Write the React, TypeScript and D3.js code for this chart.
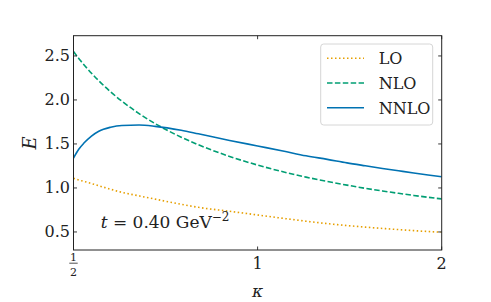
import React from "react";
import * as d3 from "d3";

const kappa = [0.5, 0.51, 0.52, 0.535, 0.55, 0.575, 0.6, 0.64, 0.68, 0.75, 0.8, 0.9, 1.0, 1.1, 1.2, 1.3, 1.4, 1.5, 1.6, 1.7, 1.8, 1.9, 2.0];
const lo = [1.11, 1.09, 1.075, 1.05, 1.025, 0.985, 0.95, 0.91, 0.873, 0.815, 0.78, 0.735, 0.693, 0.655, 0.622, 0.595, 0.573, 0.555, 0.54, 0.527, 0.515, 0.505, 0.497];
const nlo = [2.55, 2.472, 2.401, 2.304, 2.218, 2.092, 1.986, 1.845, 1.731, 1.577, 1.491, 1.358, 1.26, 1.184, 1.123, 1.074, 1.032, 0.996, 0.966, 0.939, 0.915, 0.894, 0.875];
const nnlo = [1.34, 1.44, 1.51, 1.59, 1.645, 1.69, 1.71, 1.715, 1.70, 1.655, 1.615, 1.54, 1.477, 1.42, 1.365, 1.325, 1.285, 1.252, 1.222, 1.195, 1.17, 1.148, 1.128];

const seriesNames = ["LO", "NLO", "NNLO"];
const seriesColors = ["#E69F00", "#009E73", "#0072B2"];
const seriesDash = ["1.5,2.5", "5.5,2.4", ""];
const yTicks = [0.5, 1.0, 1.5, 2.0, 2.5];
const xTicks = [1, 2];
const xMin = 0.5;
const xMax = 2;
const yMin = 0.295;
const yMax = 2.73;

const W = 491, H = 302;
const L = 73.5, R = 441.7, T = 35.7, B = 250;
const FONT = "'DejaVu Serif', serif";

export default function App() {
  const x = d3.scaleLog().domain([xMin, xMax]).range([L, R]);
  const y = d3.scaleLinear().domain([yMin, yMax]).range([B, T]);
  const series = [lo, nlo, nnlo];
  const line = d3
    .line<number>()
    .x((_, i) => x(kappa[i]))
    .y((d) => y(d))
    .curve(d3.curveMonotoneX);
  const tl = 3.5;
  return (
    <svg width={W} height={H} style={{ position: "absolute", left: 0, top: 0, background: "white" }} fontFamily={FONT}>
      <defs>
        <clipPath id="plotclip">
          <rect x={L} y={T} width={R - L} height={B - T} />
        </clipPath>
      </defs>
      <g clipPath="url(#plotclip)">
        {series.map((s, k) => (
          <path
            key={k}
            d={line(s) || ""}
            fill="none"
            stroke={seriesColors[k]}
            strokeWidth={1.6}
            strokeDasharray={seriesDash[k] || undefined}
          />
        ))}
      </g>
      {yTicks.map((t) => (
        <g key={"y" + t}>
          <line x1={L} x2={L + tl} y1={y(t)} y2={y(t)} stroke="#222" strokeWidth={0.9} />
          <line x1={R} x2={R - tl} y1={y(t)} y2={y(t)} stroke="#222" strokeWidth={0.9} />
          <text x={L - 3.5} y={y(t)} textAnchor="end" dominantBaseline="central" fontSize={16} fill="#222">
            {t.toFixed(1)}
          </text>
        </g>
      ))}
      {[xMin, ...xTicks].map((t) => (
        <g key={"x" + t}>
          <line x1={x(t)} x2={x(t)} y1={B} y2={B - tl} stroke="#222" strokeWidth={0.9} />
          <line x1={x(t)} x2={x(t)} y1={T} y2={T + tl} stroke="#222" strokeWidth={0.9} />
        </g>
      ))}
      {xTicks.map((t) => (
        <text key={"xl" + t} x={x(t)} y={269} textAnchor="middle" fontSize={16} fill="#222">
          {String(t)}
        </text>
      ))}
      <g fill="#222">
        <text x={x(xMin)} y={260.5} textAnchor="middle" fontSize={11}>1</text>
        <line x1={x(xMin) - 4.2} x2={x(xMin) + 4.2} y1={263.2} y2={263.2} stroke="#222" strokeWidth={0.8} />
        <text x={x(xMin)} y={275.5} textAnchor="middle" fontSize={11}>2</text>
      </g>
      <rect x={L} y={T} width={R - L} height={B - T} fill="none" stroke="#222" strokeWidth={1} />
      <text x={(L + R) / 2} y={297} textAnchor="middle" fontSize={17} fontStyle="italic" fill="#222">κ</text>
      <text transform={`translate(36,${(T + B) / 2}) rotate(-90)`} textAnchor="middle" fontSize={18} fontStyle="italic" fill="#222">E</text>
      <text x={100.7} y={228} fontSize={17} fill="#222">
        <tspan fontStyle="italic">t</tspan>
        <tspan> = 0.40 GeV</tspan>
        <tspan dy={-7.5} fontSize={12}>−2</tspan>
      </text>
      <g>
        <rect x={320.7} y={44} width={112} height={81} rx={3} fill="white" stroke="#d6d6d6" strokeWidth={1} />
        {seriesNames.map((n, k) => {
          const cy = 58.2 + k * 24.8;
          return (
            <g key={n}>
              <line x1={327} x2={364} y1={cy} y2={cy} stroke={seriesColors[k]} strokeWidth={1.6} strokeDasharray={seriesDash[k] || undefined} />
              <text x={378.7} y={cy + 5.8} fontSize={16} fill="#222">{n}</text>
            </g>
          );
        })}
      </g>
    </svg>
  );
}
